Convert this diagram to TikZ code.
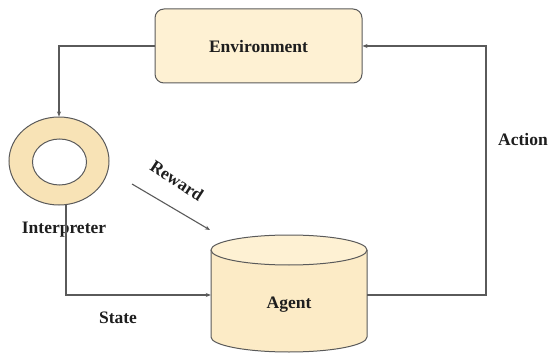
\documentclass[tikz,border=0pt]{standalone}
\usepackage{fontspec}
\setmainfont{Liberation Serif}
\usetikzlibrary{arrows.meta,shapes.geometric}
\definecolor{envfill}{HTML}{FEF1D3}
\definecolor{agfill}{HTML}{FCEBC6}
\definecolor{ringfill}{HTML}{F8E3B6}
\definecolor{edge}{HTML}{5A5A5A}
\definecolor{txt}{HTML}{1E1E1E}
\tikzset{
  lbl/.style={font=\fontsize{17.5}{20}\selectfont\bfseries, text=txt, inner sep=0pt},
  conn/.style={draw=edge, line width=1.1pt, -{Stealth[length=5pt,width=4pt]}},
  plain/.style={draw=edge, line width=1.1pt},
  shapeline/.style={draw=edge, line width=1pt}
}
\begin{document}
\begin{tikzpicture}[x=1pt,y=1pt]
\useasboundingbox (0,0) rectangle (549,354);
% Environment
\node[shapeline, fill=envfill, rounded corners=9pt, minimum width=207pt, minimum height=74pt, inner sep=0pt] (env) at (258.5,308) {};
\node[lbl] (envlabel) at (258.5,307) {Environment};
% Interpreter ring
\node[shapeline, fill=ringfill, ellipse, minimum width=100pt, minimum height=88pt, inner sep=0pt] (ring) at (59,193) {};
\node[shapeline, fill=white, ellipse, minimum width=54pt, minimum height=46pt, inner sep=0pt] (ringin) at (59.5,192) {};
\node[lbl] (interp) at (64,124) {Interpreter};
% Agent cylinder
\fill[agfill] (211,104) -- (211,17) arc[start angle=180,end angle=360,x radius=78pt,y radius=15pt] -- (367,104) arc[start angle=0,end angle=180,x radius=78pt,y radius=15pt] -- cycle;
\draw[shapeline] (211,104) -- (211,17) arc[start angle=180,end angle=360,x radius=78pt,y radius=15pt] -- (367,104);
\draw[shapeline, fill=envfill] (289,104) ellipse[x radius=78pt,y radius=15pt];
\node[minimum width=156pt, minimum height=90pt, inner sep=0pt] (agent) at (289,59) {};
\node[lbl] (agentlabel) at (289,49) {Agent};
% Connectors
\coordinate (rs) at (66,149.4);
\coordinate (rw1) at (132,170);
\coordinate (rw2) at (210,124);
\draw[conn] (env.west) -| (ring.north);
\draw[conn] (rs) |- (agent.west);
\draw[conn] (agent.east) -- (486,59) |- (env.east);
\draw[conn] (rw1) -- (rw2);
% Labels
\node[lbl, rotate=-33] (reward) at (177,173) {Reward};
\node[lbl] (action) at (523,214) {Action};
\node[lbl] (state) at (118,36) {State};
\end{tikzpicture}
\end{document}
